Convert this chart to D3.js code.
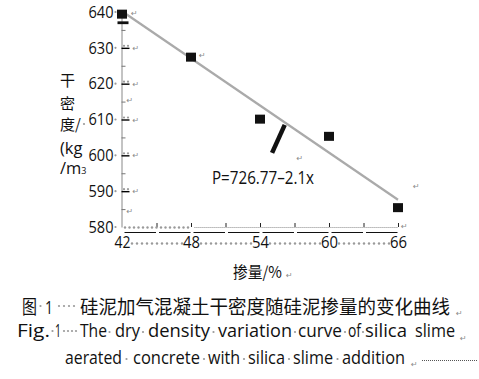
<!DOCTYPE html>
<html><head><meta charset="utf-8">
<script src="https://cdn.jsdelivr.net/npm/d3@7/dist/d3.min.js"></script>
<style>body{margin:0;background:#fff}svg{display:block}</style>
</head><body>
<svg id="c" width="479" height="379"></svg>
<script>
// ---- data ----
const silica = [42, 48, 54, 60, 66];
const density = [639.4, 627.4, 610.1, 605.3, 585.4];
const trendX = [42, 66];
const trendY = [640.2, 587.6];
const yMajor = [580, 590, 600, 610, 620, 630, 640];
const yMinor = [585, 595, 605, 615, 625, 635];
const xTicks = [42, 45, 48, 51, 54, 57, 60, 63, 66];
const xLabels = [42, 48, 54, 60, 66];
const formula = "P=726.77\u20132.1x";
const yTitle = ["干", "密", "度/", "(kg", "/m"];
const xTitle = "掺量/%";
const captionCn = ["图", "1", "硅泥加气混凝土干密度随硅泥掺量的变化曲线"];
const captionEn1 = ["Fig.", "1", "The", "dry", "density", "variation", "curve", "of", "silica", "slime"];
const captionEn2 = ["aerated", "concrete", "with", "silica", "slime", "addition"];

const svg = d3.select("#c");
svg.append("rect").attr("width", 479).attr("height", 379).attr("fill", "#fff");
const FONT = "'Open Sans', 'Noto Sans', sans-serif";
const CJK = "'Noto Sans CJK SC', sans-serif";
const MARK = "#8a8a8a";

const x = d3.scaleLinear().domain([42, 66]).range([122, 398]);
const y = d3.scaleLinear().domain([580, 640]).range([227, 12]);
const X0 = 121.5;

function mark(px, py) {
  svg.append("text").attr("x", px).attr("y", py).text("\u21b5")
    .attr("font-size", 8).attr("fill", MARK).attr("font-family", "DejaVu Sans");
}
function dot(px, py, r) {
  svg.append("circle").attr("cx", px).attr("cy", py).attr("r", r || 1.1).attr("fill", "#9a9a9a");
}

// ---- y axis ----
const gy = svg.append("g").attr("transform", `translate(${X0},0)`);
gy.call(d3.axisLeft(y).tickValues(yMajor).tickSizeInner(-8).tickSizeOuter(0).tickPadding(8).tickFormat(d3.format("d")));
gy.select(".domain").attr("stroke", "#888");
gy.selectAll(".tick line").attr("stroke", "#000").attr("stroke-width", 1.4)
  .filter(d => d === 580 || d === 640).remove();
gy.selectAll(".tick text").attr("font-family", FONT).attr("font-size", 16.5).attr("fill", "#111")
  .attr("textLength", 25).attr("lengthAdjust", "spacingAndGlyphs");
const gy2 = svg.append("g").attr("transform", `translate(${X0},0)`);
gy2.call(d3.axisLeft(y).tickValues(yMinor).tickSizeInner(-4).tickSizeOuter(0).tickFormat(""));
gy2.select(".domain").remove();
gy2.selectAll(".tick line").attr("stroke", "#777");

yMajor.forEach(v => {
  dot(X0 - 6, y(v));
  if (v !== 580 && v !== 640) {
    dot(X0 + 2.5, y(v) - 2); dot(X0 + 6.5, y(v) - 2);
    mark(X0 + 11, y(v) + 3);
  }
});
mark(X0 + 5, y(614.5)); mark(X0 + 5, y(583.5));
// stray mark below the first point
svg.append("rect").attr("x", X0 - 4).attr("y", y(637) - 1.4).attr("width", 11).attr("height", 2.8).attr("fill", "#111");

// ---- x axis ----
const gx = svg.append("g").attr("transform", `translate(0,${y(580)})`);
gx.call(d3.axisBottom(x).tickValues(xTicks).tickSizeInner(-4).tickSizeOuter(0).tickPadding(9)
  .tickFormat(d => xLabels.includes(d) ? d : ""));
gx.select(".domain").remove();
gx.selectAll(".tick line").attr("stroke", "#222").filter(d => d === 42).remove();
gx.selectAll(".tick text").attr("font-family", FONT).attr("font-size", 16.5).attr("fill", "#111")
  .filter(d => xLabels.includes(d)).attr("textLength", d => d === 42 ? 16 : 17).attr("lengthAdjust", "spacingAndGlyphs");
// axis line: big dots then fine dotted
d3.range(x(42) + 3, x(48), 4.5).forEach(px => dot(px, y(580) + 0.5, 1.2));
svg.append("line").attr("x1", x(48.3)).attr("x2", x(66)).attr("y1", y(580) + 0.5).attr("y2", y(580) + 0.5)
  .attr("stroke", "#888").attr("stroke-dasharray", "1,1");
// underline segments
d3.pairs(xTicks).forEach(([a, b]) => {
  svg.append("line").attr("x1", x(a) + 2.5).attr("x2", x(b) - 0.5).attr("y1", 232.5).attr("y2", 232.5)
    .attr("stroke", "#111").attr("stroke-width", 1);
});
// dotted gaps between x labels
d3.pairs(xLabels).forEach(([a, b]) => {
  d3.range(x(a) + 10, x(b) - 8, 5).forEach(px => dot(px, 243.5, 1.2));
});
mark(x(66) + 3, y(580) + 1.5);

// ---- trend line ----
svg.append("line")
  .attr("x1", x(trendX[0])).attr("y1", y(trendY[0]))
  .attr("x2", x(trendX[1])).attr("y2", y(trendY[1]))
  .attr("stroke", "#aaa").attr("stroke-width", 2.2);

// ---- points ----
svg.selectAll("rect.pt").data(silica).join("rect").attr("class", "pt")
  .attr("x", d => x(d) - 5).attr("y", (d, i) => y(density[i]) - 4.5)
  .attr("width", 10).attr("height", 9).attr("fill", "#111");
mark(x(42) + 9, y(639.4) + 2);
mark(x(48) + 8, y(627.4) + 1);
mark(x(66) + 15, y(590.5));

// stray slash
svg.append("line").attr("x1", x(56.15)).attr("y1", y(608.5)).attr("x2", x(55.05)).attr("y2", y(600.7))
  .attr("stroke", "#111").attr("stroke-width", 4.5);
mark(x(56.3) + 10, y(598.4));

// formula
svg.append("text").attr("x", 212).attr("y", 183.5).text(formula)
  .attr("font-family", FONT).attr("font-size", 17.5).attr("fill", "#111")
  .attr("textLength", 102).attr("lengthAdjust", "spacingAndGlyphs");

// ---- axis titles ----
const yT = [80, 103, 124, 148, 168];
yTitle.forEach((t, i) => {
  const tx = svg.append("text").attr("x", 60).attr("y", yT[i] + 6)
    .attr("font-family", i < 3 ? CJK : FONT).attr("font-size", i < 3 ? 15 : 16.5).attr("fill", "#111").text(t);
  if (i === 4) tx.append("tspan").attr("font-size", 9).text("3");
});
dot(84, 124);
svg.append("text").attr("x", 233).attr("y", 278).text(xTitle)
  .attr("font-family", CJK).attr("font-size", 16).attr("fill", "#111")
  .attr("textLength", 49).attr("lengthAdjust", "spacingAndGlyphs");
mark(286, 278);

// ---- caption ----
function word(t, x0, x1, base, fs, fam) {
  svg.append("text").attr("x", x0).attr("y", base).text(t)
    .attr("font-family", fam).attr("font-size", fs).attr("fill", "#111")
    .attr("textLength", x1 - x0).attr("lengthAdjust", "spacingAndGlyphs");
}
const cnPos = [[22, 37], [45, 53], [80, 450]];
captionCn.forEach((t, i) => word(t, cnPos[i][0], cnPos[i][1], 313.5, 19, i === 1 ? FONT : CJK));
dot(40.5, 306); [59, 64, 69, 74].forEach(px => dot(px, 306));
mark(456, 316);

const en1Pos = [[17, 50], [55, 61], [80, 107], [115, 140], [148, 210], [218, 292], [298, 342], [348, 361], [365, 407], [415, 455]];
captionEn1.forEach((t, i) => word(t, en1Pos[i][0], en1Pos[i][1], 337, 18.5, FONT));
dot(52.5, 331); [64, 68, 72, 76].forEach(px => dot(px, 331));
[109.5, 143, 213.5, 295, 345, 363].forEach(px => dot(px, 332));
mark(460, 341);

const en2Pos = [[65, 122], [133, 200], [208, 240], [248, 285], [293, 333], [342, 405]];
captionEn2.forEach((t, i) => word(t, en2Pos[i][0], en2Pos[i][1], 364, 18.5, FONT));
[126.5, 204, 244, 289, 337.5].forEach(px => dot(px, 359));
mark(411, 367);
svg.append("line").attr("x1", 422).attr("x2", 478).attr("y1", 360.5).attr("y2", 360.5)
  .attr("stroke", "#555").attr("stroke-dasharray", "1,1");
</script>
</body></html>
